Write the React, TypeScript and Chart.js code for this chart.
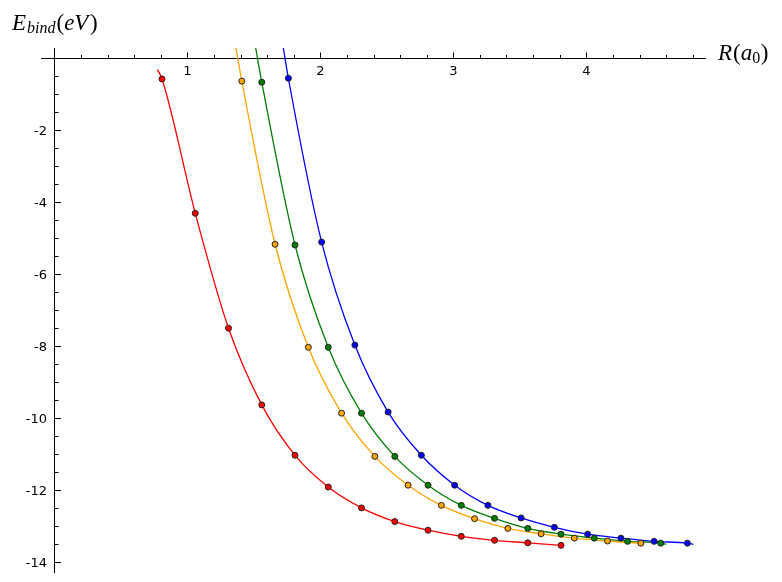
import React, { useEffect, useRef } from "react";
import { Chart, registerables } from "chart.js";

Chart.register(...registerables);

// ---- data ----
const redR = [0.81, 1.06, 1.31, 1.56, 1.81, 2.06, 2.31, 2.56, 2.81, 3.06, 3.31, 3.56, 3.81];
const redE = [-0.58, -4.31, -7.5, -9.63, -11.03, -11.91, -12.49, -12.87, -13.11, -13.28, -13.39, -13.46, -13.53];

const orangeR = [1.41, 1.66, 1.91, 2.16, 2.41, 2.66, 2.91, 3.16, 3.41, 3.66, 3.91, 4.16, 4.41];
const orangeE = [-0.64, -5.17, -8.03, -9.86, -11.06, -11.86, -12.42, -12.79, -13.06, -13.21, -13.33, -13.41, -13.47];

const greenR = [1.56, 1.81, 2.06, 2.31, 2.56, 2.81, 3.06, 3.31, 3.56, 3.81, 4.06, 4.31, 4.56];
const greenE = [-0.67, -5.19, -8.03, -9.86, -11.06, -11.86, -12.42, -12.78, -13.06, -13.22, -13.33, -13.42, -13.47];

const blueR = [1.76, 2.01, 2.26, 2.51, 2.76, 3.01, 3.26, 3.51, 3.76, 4.01, 4.26, 4.51, 4.76];
const blueE = [-0.56, -5.11, -7.97, -9.83, -11.03, -11.86, -12.42, -12.77, -13.03, -13.22, -13.33, -13.42, -13.47];

// where each fitted curve begins / ends beyond the markers
const redCurveStart = [0.776, -0.32];
const orangeCurveStart = [1.366, 0.28];
const greenCurveStart = [1.514, 0.28];
const greenCurveEnd = [4.6, -13.5];
const blueCurveStart = [1.722, 0.28];
const blueCurveEnd = [4.805, -13.5];

// axes
const xRange = [-0.1, 4.9];
const yRange = [-14.29, 0.28];
const xMajorTicks = [1, 2, 3, 4];
const xMinorStep = 0.2;
const yMajorTicks = [-2, -4, -6, -8, -10, -12, -14];
const yMinorStep = 0.5;
const xTitle = ["R", "(", "a", "0", ")"];
const yTitle = ["E", "bind", "(", "eV", ")"];

const RED = "#ff0000";
const ORANGE = "#ffa500";
const GREEN = "#008000";
const BLUE = "#0000ff";

function pts(xs: number[], ys: number[]) {
  return xs.map((x, i) => ({ x, y: ys[i] }));
}

function curve(xs: number[], ys: number[], start: number[] | null, end: number[] | null) {
  const p = pts(xs, ys);
  if (start) p.unshift({ x: start[0], y: start[1] });
  if (end) p.push({ x: end[0], y: end[1] });
  return p;
}

const axesPlugin = {
  id: "sageAxes",
  beforeDatasetsDraw(chart: any) {
    const { ctx, chartArea } = chart;
    const xs = chart.scales.x;
    const ys = chart.scales.y;
    const px = (v: number) => Math.round(xs.getPixelForValue(v)) + 0.5;
    const py = (v: number) => Math.round(ys.getPixelForValue(v)) + 0.5;
    const x0 = px(0);
    const y0 = py(0);
    ctx.save();
    ctx.strokeStyle = "#000";
    ctx.lineWidth = 1;
    ctx.beginPath();
    ctx.moveTo(Math.round(chartArea.left), y0);
    ctx.lineTo(Math.round(chartArea.right), y0);
    ctx.moveTo(x0, Math.round(chartArea.top));
    ctx.lineTo(x0, Math.round(chartArea.bottom));
    ctx.stroke();

    // x ticks (pointing up)
    ctx.beginPath();
    const nx = Math.round(xRange[1] / xMinorStep);
    for (let i = 1; i <= nx; i++) {
      const v = +(i * xMinorStep).toFixed(6);
      if (v > xRange[1]) break;
      const isMajor = xMajorTicks.some((t) => Math.abs(t - v) < 1e-6);
      const x = px(v);
      ctx.moveTo(x, y0);
      ctx.lineTo(x, y0 - (isMajor ? 6 : 3.5));
    }
    // y ticks (pointing right)
    const ny = Math.round(-yRange[0] / yMinorStep);
    for (let i = 1; i <= ny; i++) {
      const v = -i * yMinorStep;
      if (v < yRange[0]) break;
      const isMajor = yMajorTicks.some((t) => Math.abs(t - v) < 1e-6);
      const y = py(v);
      ctx.moveTo(x0, y);
      ctx.lineTo(x0 + (isMajor ? 6.5 : 4), y);
    }
    ctx.stroke();

    // tick labels
    ctx.fillStyle = "#000";
    ctx.font = '13px "DejaVu Sans"';
    ctx.textBaseline = "alphabetic";
    ctx.textAlign = "center";
    for (const t of xMajorTicks) {
      ctx.fillText(String(t), xs.getPixelForValue(t), y0 + 16.5);
    }
    ctx.textAlign = "right";
    for (const t of yMajorTicks) {
      ctx.fillText(String(t), x0 - 7.5, ys.getPixelForValue(t) + 4.5);
    }

    // axis titles (math style)
    ctx.textAlign = "left";
    const big = 'italic 23px "Liberation Serif"';
    const bigUp = '23px "Liberation Serif"';
    const small = 'italic 16px "Liberation Serif"';
    const smallUp = '16px "Liberation Serif"';
    // y title: E_bind(eV)
    let cx = 12;
    const yb = 30;
    ctx.font = big; ctx.fillText(yTitle[0], cx, yb); cx += ctx.measureText(yTitle[0]).width + 1;
    ctx.font = small; ctx.fillText(yTitle[1], cx, yb + 3); cx += ctx.measureText(yTitle[1]).width + 1;
    ctx.font = bigUp; ctx.fillText(yTitle[2], cx, yb); cx += ctx.measureText(yTitle[2]).width;
    ctx.font = big; ctx.fillText(yTitle[3], cx, yb); cx += ctx.measureText(yTitle[3]).width + 1.5;
    ctx.font = bigUp; ctx.fillText(yTitle[4], cx, yb);
    // x title: R(a_0)
    cx = 718;
    const xb = 60;
    ctx.font = big; ctx.fillText(xTitle[0], cx, xb); cx += ctx.measureText(xTitle[0]).width + 1;
    ctx.font = bigUp; ctx.fillText(xTitle[1], cx, xb); cx += ctx.measureText(xTitle[1]).width;
    ctx.font = big; ctx.fillText(xTitle[2], cx, xb); cx += ctx.measureText(xTitle[2]).width;
    ctx.font = smallUp; ctx.fillText(xTitle[3], cx, xb + 3); cx += ctx.measureText(xTitle[3]).width + 0.5;
    ctx.font = bigUp; ctx.fillText(xTitle[4], cx, xb);
    ctx.restore();
  },
};

export default function App() {
  const ref = useRef<HTMLCanvasElement | null>(null);
  useEffect(() => {
    if (!ref.current) return;
    const marker = (color: string, xs: number[], ys: number[]) => ({
      type: "scatter" as const,
      data: pts(xs, ys),
      backgroundColor: color,
      borderColor: "#222",
      borderWidth: 1,
      pointRadius: 3,
      showLine: false,
      order: 0,
    });
    const line = (color: string, data: any[]) => ({
      type: "scatter" as const,
      data,
      borderColor: color,
      backgroundColor: color,
      borderWidth: 1.3,
      pointRadius: 0,
      showLine: true,
      cubicInterpolationMode: "monotone" as const,
      fill: false,
      order: 1,
    });
    const chart = new Chart(ref.current, {
      type: "scatter",
      data: {
        datasets: [
          marker(RED, redR, redE),
          marker(ORANGE, orangeR, orangeE),
          marker(GREEN, greenR, greenE),
          marker(BLUE, blueR, blueE),
          line(RED, curve(redR, redE, redCurveStart, null)),
          line(ORANGE, curve(orangeR, orangeE, orangeCurveStart, null)),
          line(GREEN, curve(greenR, greenE, greenCurveStart, greenCurveEnd)),
          line(BLUE, curve(blueR, blueE, blueCurveStart, blueCurveEnd)),
        ] as any,
      },
      options: {
        responsive: false,
        animation: false,
        devicePixelRatio: 1,
        layout: { padding: { left: 41, right: 76, top: 48, bottom: 9.3 } },
        plugins: { legend: { display: false }, tooltip: { enabled: false } },
        scales: {
          x: { type: "linear", min: xRange[0], max: xRange[1], display: false },
          y: { type: "linear", min: yRange[0], max: yRange[1], display: false },
        },
      },
      plugins: [axesPlugin],
    });
    return () => chart.destroy();
  }, []);
  return (
    <div style={{ position: "absolute", left: 0, top: 0, width: 782, height: 582, background: "#fff" }}>
      <canvas ref={ref} width={782} height={582} style={{ display: "block" }} />
    </div>
  );
}
